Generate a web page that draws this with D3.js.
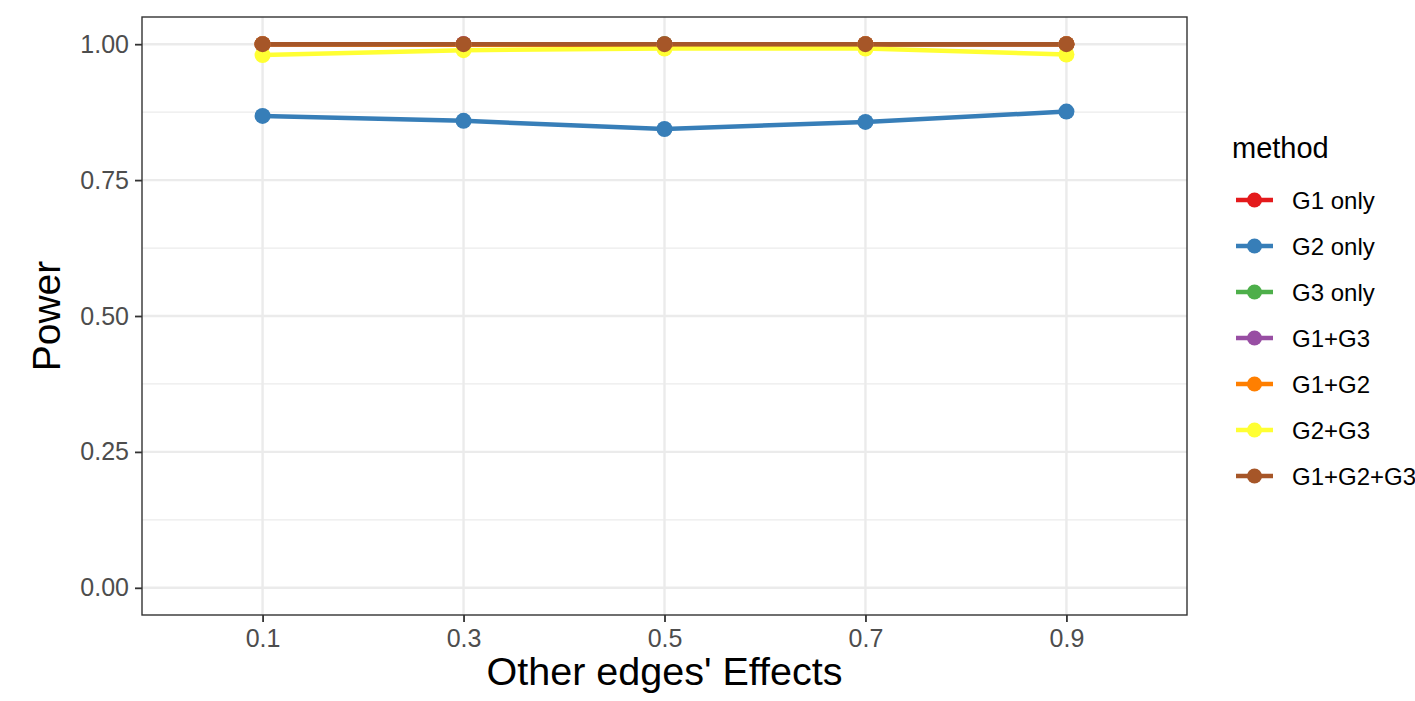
<!DOCTYPE html>
<html>
<head>
<meta charset="utf-8">
<script src="https://cdn.jsdelivr.net/npm/d3@7"></script>
<style>
  html, body { margin: 0; padding: 0; background: #fff; }
  svg text { font-family: "Liberation Sans", Arial, sans-serif; }
</style>
</head>
<body>
<div id="container"></div>
<script>
// x categories (discrete axis)
const effects = ["0.1", "0.3", "0.5", "0.7", "0.9"];
const yTicks = [0, 0.25, 0.5, 0.75, 1.0];
const yMinor = [0.125, 0.375, 0.625, 0.875];

const methods = ["G1 only", "G2 only", "G3 only", "G1+G3", "G1+G2", "G2+G3", "G1+G2+G3"];
const colors = ["#E41A1C", "#377EB8", "#4DAF4A", "#984EA3", "#FF7F00", "#FFFF33", "#A65628"];

const g1Only = [1.000, 1.000, 1.000, 1.000, 1.000];
const g2Only = [0.868, 0.859, 0.844, 0.857, 0.876];
const g3Only = [1.000, 0.999, 1.000, 1.000, 1.000];
const g1g3 = [1.000, 1.000, 0.999, 1.000, 1.000];
const g1g2 = [1.000, 0.999, 0.998, 1.000, 1.000];
const g2g3 = [0.980, 0.989, 0.992, 0.992, 0.981];
const g1g2g3 = [1.000, 1.000, 1.000, 1.000, 1.000];
const seriesValues = [g1Only, g2Only, g3Only, g1g3, g1g2, g2g3, g1g2g3];

const main = () => {
    const w = 1415;
    const h = 701;
    const panel = { left: 142, right: 1187, top: 17, bottom: 615 };

    const svg = d3.select('#container').append('svg')
        .attr('width', w)
        .attr('height', h)
        .style('display', 'block');

    const series = methods.map((m, i) => ({
        method: m,
        color: colors[i],
        values: effects.map((e, j) => ({ x: e, y: seriesValues[i][j] }))
    }));

    const xScale = d3.scalePoint().domain(effects)
        .range([panel.left, panel.right]).padding(0.6);
    const yScale = d3.scaleLinear().domain([-0.05, 1.05])
        .range([panel.bottom, panel.top]);

    // grid
    const grid = svg.append('g');
    grid.selectAll('.minor').data(yMinor).enter().append('line')
        .attr('x1', panel.left).attr('x2', panel.right)
        .attr('y1', d => yScale(d)).attr('y2', d => yScale(d))
        .attr('stroke', '#ebebeb').attr('stroke-width', 1.2);
    grid.selectAll('.majorY').data(yTicks).enter().append('line')
        .attr('x1', panel.left).attr('x2', panel.right)
        .attr('y1', d => yScale(d)).attr('y2', d => yScale(d))
        .attr('stroke', '#ebebeb').attr('stroke-width', 2.4);
    grid.selectAll('.majorX').data(effects).enter().append('line')
        .attr('y1', panel.top).attr('y2', panel.bottom)
        .attr('x1', d => xScale(d)).attr('x2', d => xScale(d))
        .attr('stroke', '#ebebeb').attr('stroke-width', 2.4);

    // lines first, then points (ggplot layer order)
    const lineMaker = d3.line()
        .x(d => xScale(d.x))
        .y(d => yScale(d.y));

    svg.append('g').selectAll('path').data(series).enter()
        .append('path')
        .attr('d', d => lineMaker(d.values))
        .attr('fill', 'none')
        .attr('stroke', d => d.color)
        .attr('stroke-width', 4.5);

    const pts = svg.append('g');
    series.forEach(s => {
        pts.selectAll(null).data(s.values).enter()
            .append('circle')
            .attr('cx', d => xScale(d.x))
            .attr('cy', d => yScale(d.y))
            .attr('r', 8)
            .attr('fill', s.color);
    });

    // panel border
    svg.append('rect')
        .attr('x', panel.left).attr('y', panel.top)
        .attr('width', panel.right - panel.left)
        .attr('height', panel.bottom - panel.top)
        .attr('fill', 'none')
        .attr('stroke', '#333333')
        .attr('stroke-width', 1.4);

    // axes
    const yAxis = d3.axisLeft(yScale).tickValues(yTicks)
        .tickFormat(d3.format('.2f')).tickSize(7).tickPadding(6);
    const yAxisGroup = svg.append('g')
        .attr('transform', 'translate(' + panel.left + ',0)')
        .call(yAxis);

    const xAxis = d3.axisBottom(xScale).tickSize(7).tickPadding(7);
    const xAxisGroup = svg.append('g')
        .attr('transform', 'translate(0,' + panel.bottom + ')')
        .call(xAxis);

    [yAxisGroup, xAxisGroup].forEach(g => {
        g.select('.domain').remove();
        g.selectAll('.tick line').attr('stroke', '#333333').attr('stroke-width', 1.8);
        g.selectAll('.tick text')
            .attr('fill', '#4d4d4d')
            .style('font-size', '25px');
    });

    // axis titles
    svg.append('text')
        .attr('x', (panel.left + panel.right) / 2)
        .attr('y', 685)
        .attr('text-anchor', 'middle')
        .style('font-size', '39.5px')
        .attr('fill', '#000')
        .text("Other edges' Effects");

    svg.append('text')
        .attr('transform', 'translate(60,' + ((panel.top + panel.bottom) / 2) + ') rotate(-90)')
        .attr('text-anchor', 'middle')
        .style('font-size', '39px')
        .attr('fill', '#000')
        .text('Power');

    // legend
    const legend = svg.append('g').attr('transform', 'translate(1232,0)');
    legend.append('text')
        .attr('x', 0).attr('y', 158)
        .style('font-size', '29px')
        .attr('fill', '#000')
        .text('method');

    const rowY = d3.scalePoint().domain(methods).range([200, 476]);
    const rows = legend.selectAll('.key').data(series).enter().append('g')
        .attr('transform', d => 'translate(0,' + rowY(d.method) + ')');
    rows.append('line')
        .attr('x1', 4).attr('x2', 41)
        .attr('stroke', d => d.color).attr('stroke-width', 4.5);
    rows.append('circle')
        .attr('cx', 22.5).attr('r', 7.5)
        .attr('fill', d => d.color);
    rows.append('text')
        .attr('x', 60).attr('y', 9)
        .style('font-size', '24px')
        .attr('fill', '#000')
        .text(d => d.method);
}
main();
</script>
</body>
</html>
